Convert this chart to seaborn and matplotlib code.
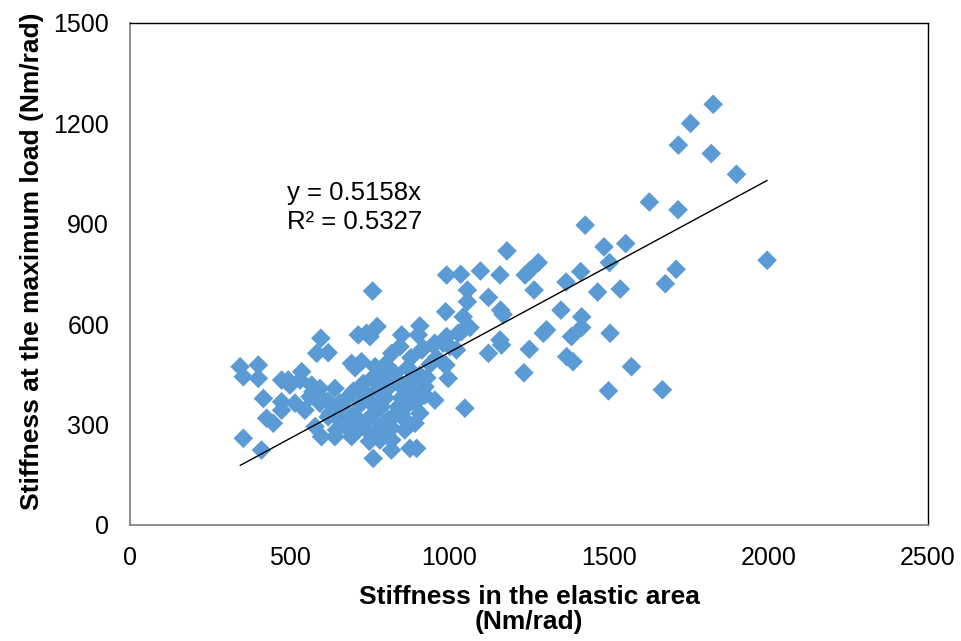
import numpy as np
import pandas as pd
import matplotlib
matplotlib.use("Agg")
import matplotlib.pyplot as plt
import seaborn as sns

# ---- data ----
elastic_stiffness = [
    1827, 1756, 1718, 1821, 1900, 1627, 1717, 1426, 1485, 1553,
    1502, 1412, 1366, 1711, 1677, 1996, 1465, 1536, 1181, 1279,
    1238, 1252, 992, 1036, 1098, 1159, 1266, 1057, 1057, 1123,
    989, 1161, 1169, 1350, 1415, 1415, 1383, 1504, 1295, 1305,
    1044, 1065, 1039, 908, 851, 774, 992, 981, 1002, 919,
    950, 1023, 846, 1159, 1164, 1123, 1251, 990, 997, 955,
    1049, 1234, 1368, 1388, 1571, 1499, 1668, 760, 598, 585,
    621, 715, 752, 345, 402, 355, 402, 475, 538, 501,
    694, 418, 475, 428, 449, 475, 355, 412, 564, 595,
    569, 985, 762, 819, 877, 898, 496, 705, 590, 642,
    684, 663, 621, 580, 600, 642, 694, 710, 548, 517,
    741, 903, 914, 820, 725, 768, 830, 908, 731, 778,
    856, 914, 725, 788, 840, 893, 924, 746, 809, 861,
    908, 715, 768, 820, 861, 893, 955, 1028, 924, 783,
    804, 760, 790, 800, 830, 850, 880, 760, 790, 820,
    700, 740, 533, 573, 595, 627, 658, 647, 689, 741,
    700, 730, 760, 790, 820, 850, 870, 880, 750, 800,
    840, 870, 650, 680, 620, 930, 940, 960, 880, 800,
]
max_load_stiffness = [
    1257, 1200, 1135, 1110, 1048, 965, 942, 896, 831, 841,
    784, 757, 726, 764, 721, 791, 696, 705, 819, 784,
    747, 760, 747, 749, 759, 747, 702, 702, 667, 680,
    637, 642, 629, 642, 622, 590, 563, 573, 573, 583,
    622, 590, 578, 595, 568, 593, 563, 543, 533, 528,
    538, 523, 533, 553, 538, 513, 525, 478, 438, 373,
    349, 455, 503, 488, 473, 401, 404, 699, 558, 513,
    515, 568, 563, 473, 478, 443, 438, 433, 458, 418,
    483, 378, 368, 319, 304, 343, 259, 224, 383, 408,
    418, 480, 199, 224, 229, 229, 433, 470, 388, 408,
    383, 353, 323, 294, 264, 264, 264, 319, 343, 364,
    573, 568, 523, 513, 488, 473, 453, 448, 423, 408,
    408, 403, 364, 353, 353, 364, 388, 314, 314, 314,
    334, 284, 274, 254, 284, 304, 543, 573, 413, 254,
    284, 330, 300, 380, 330, 380, 430, 440, 440, 420,
    400, 390, 433, 398, 364, 334, 364, 284, 314, 284,
    330, 300, 360, 390, 290, 330, 360, 400, 250, 270,
    430, 470, 320, 290, 370, 440, 480, 500, 500, 480,
]
slope = 0.5158
r_squared = 0.5327
x_ticks = [0, 500, 1000, 1500, 2000, 2500]
y_ticks = [0, 300, 600, 900, 1200, 1500]

df = pd.DataFrame({"elastic": elastic_stiffness, "maxload": max_load_stiffness})

sns.set_theme(style="white")
plt.rcParams["font.family"] = ["Liberation Sans", "DejaVu Sans"]
plt.rcParams["text.color"] = "black"
plt.rcParams["axes.labelcolor"] = "black"

fig = plt.figure(figsize=(9.62, 6.41), dpi=100)
ax = fig.add_axes([130 / 962, 1 - 525 / 641, (928 - 130) / 962, (525 - 23) / 641])

sns.scatterplot(data=df, x="elastic", y="maxload", ax=ax, marker="D",
                s=100, color="#5B9BD5", edgecolor="none", linewidth=0, zorder=3)

x_line = np.array([df["elastic"].min(), df["elastic"].max()])
sns.lineplot(x=x_line, y=slope * x_line, ax=ax, color="black", linewidth=1.0, zorder=4)

ax.set_xlim(0, 2500)
ax.set_ylim(0, 1500)
ax.set_xticks(x_ticks)
ax.set_yticks(y_ticks)
ax.set_xticklabels([str(v) for v in x_ticks])
ax.set_yticklabels([str(v) for v in y_ticks])
ax.tick_params(axis="both", direction="in", length=5, width=1.0, color="#868686",
               labelsize=18, labelcolor="black")
ax.tick_params(axis="x", pad=15)
ax.tick_params(axis="y", pad=15)

for side in ["left", "bottom"]:
    ax.spines[side].set_color("#868686")
    ax.spines[side].set_linewidth(1.3)
for side in ["top", "right"]:
    ax.spines[side].set_color("black")
    ax.spines[side].set_linewidth(1.0)

ax.set_xlabel("Stiffness in the elastic area\n(Nm/rad)", fontsize=19,
              fontweight="bold", labelpad=11, linespacing=1.05, color="black")
ax.set_ylabel("Stiffness at the maximum load (Nm/rad)", fontsize=19,
              fontweight="bold", labelpad=7, color="black")
ax.yaxis.label.set_y(0.525)

ax.text(492, 992, f"y = {slope}x", fontsize=18.5, va="center", ha="left", color="black")
ax.text(492, 905, f"R² = {r_squared}", fontsize=18.5, va="center", ha="left", color="black")

fig.savefig("out.png", dpi=100)
